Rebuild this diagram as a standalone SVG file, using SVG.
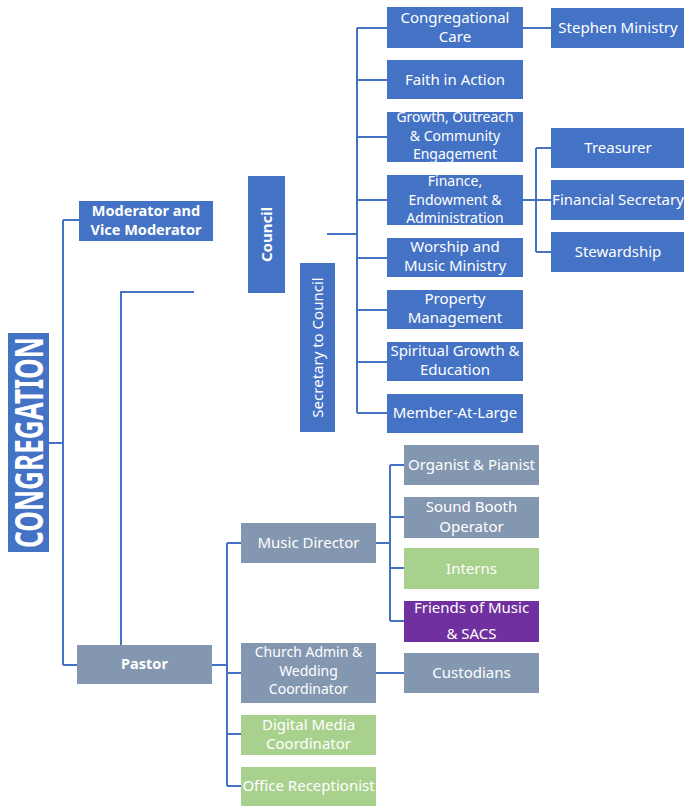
<svg xmlns="http://www.w3.org/2000/svg" width="684" height="806" viewBox="0 0 684 806">
<style>
.b{fill:#4472C4}
.g{fill:#8497B0}
.gr{fill:#A9D18E}
.p{fill:#7030A0}
text{font-family:"Noto Sans","Open Sans","Liberation Sans",sans-serif;font-size:15px;fill:#fff;text-anchor:middle}
.bd{font-weight:bold}
.t3{font-size:14px}
.c{fill:none;stroke:#4472C4;stroke-width:2}
</style>
<rect width="684" height="806" fill="#fff"/>
<g id="connectors">
<path class="c" d="M49,443 H63 M63,220 V665 M63,220 H79 M63,665 H77"/>
<path class="c" d="M121,645 V292 H194"/>
<path class="c" d="M327,234 H357 M357,28 V413 M357,28 H387 M357,80 H387 M357,137 H387 M357,200 H387 M357,258 H387 M357,310 H387 M357,362 H387 M357,413 H387"/>
<path class="c" d="M523,28 H551"/>
<path class="c" d="M523,200 H536 M536,148 V252 M536,148 H551 M536,200 H551 M536,252 H551"/>
<path class="c" d="M212,665 H227 M227,543 V786 M227,543 H241 M227,673 H241 M227,734 H241 M227,786 H241"/>
<path class="c" d="M376,543 H390 M390,465 V621 M390,465 H404 M390,517 H404 M390,568 H404 M390,621 H404"/>
<path class="c" d="M376,673 H404"/>
</g>
<g id="congregation"><rect class="b" x="8" y="333" width="41" height="219"/><text class="bd" transform="translate(43,442.5) rotate(-90)" textLength="211" lengthAdjust="spacingAndGlyphs" style="font-size:39px">CONGREGATION</text></g>
<g id="moderator"><rect class="b" x="79" y="201" width="134" height="40"/><text class="bd" x="146" y="216" style="font-size:14.5px">Moderator and</text><text class="bd" x="146" y="235" style="font-size:14.5px">Vice Moderator</text></g>
<g id="pastor"><rect class="g" x="77" y="645" width="135" height="39"/><text class="bd" x="144.5" y="669" style="font-size:14.5px">Pastor</text></g>
<g id="council"><rect class="b" x="248" y="176" width="37" height="117"/><text class="bd" transform="translate(271.5,234.5) rotate(-90)">Council</text></g>
<g id="secretary"><rect class="b" x="300" y="263" width="35" height="169"/><text transform="translate(323,347.5) rotate(-90)">Secretary to Council</text></g>
<g id="cong-care"><rect class="b" x="387" y="7" width="136" height="41"/><text x="455" y="23">Congregational</text><text x="455" y="42">Care</text></g>
<g id="faith"><rect class="b" x="387" y="60" width="136" height="39"/><text x="455" y="85">Faith in Action</text></g>
<g id="growth"><rect class="b" x="387" y="112" width="136" height="50"/><text class="t3" x="455" y="122">Growth, Outreach</text><text class="t3" x="455" y="140.5">&amp; Community</text><text class="t3" x="455" y="159">Engagement</text></g>
<g id="finance"><rect class="b" x="387" y="175" width="136" height="50"/><text class="t3" x="455" y="186">Finance,</text><text class="t3" x="455" y="204.5">Endowment &amp;</text><text class="t3" x="455" y="223">Administration</text></g>
<g id="worship"><rect class="b" x="387" y="238" width="136" height="39"/><text x="455" y="252">Worship and</text><text x="455" y="271">Music Ministry</text></g>
<g id="property"><rect class="b" x="387" y="290" width="136" height="39"/><text x="455" y="304">Property</text><text x="455" y="323">Management</text></g>
<g id="spiritual"><rect class="b" x="387" y="342" width="136" height="39"/><text x="455" y="356">Spiritual Growth &amp;</text><text x="455" y="375">Education</text></g>
<g id="member"><rect class="b" x="387" y="394" width="136" height="39"/><text x="455" y="418">Member-At-Large</text></g>
<g id="stephen"><rect class="b" x="551" y="8" width="133" height="40"/><text x="618" y="33">Stephen Ministry</text></g>
<g id="treasurer"><rect class="b" x="551" y="128" width="133" height="40"/><text x="618" y="153">Treasurer</text></g>
<g id="fin-sec"><rect class="b" x="551" y="180" width="133" height="40"/><text x="618" y="205">Financial Secretary</text></g>
<g id="stewardship"><rect class="b" x="551" y="232" width="133" height="40"/><text x="618" y="257">Stewardship</text></g>
<g id="music-director"><rect class="g" x="241" y="523" width="135" height="40"/><text x="308.5" y="548">Music Director</text></g>
<g id="church-admin"><rect class="g" x="241" y="643" width="135" height="60"/><text class="t3" x="308.5" y="657">Church Admin &amp;</text><text class="t3" x="308.5" y="675.5">Wedding</text><text class="t3" x="308.5" y="694">Coordinator</text></g>
<g id="digital"><rect class="gr" x="241" y="715" width="135" height="40"/><text x="308.5" y="730">Digital Media</text><text x="308.5" y="749">Coordinator</text></g>
<g id="office"><rect class="gr" x="241" y="767" width="135" height="39"/><text x="308.5" y="791">Office Receptionist</text></g>
<g id="organist"><rect class="g" x="404" y="445" width="135" height="40"/><text x="471.5" y="470">Organist &amp; Pianist</text></g>
<g id="sound"><rect class="g" x="404" y="497" width="135" height="41"/><text x="471.5" y="512">Sound Booth</text><text x="471.5" y="532">Operator</text></g>
<g id="interns"><rect class="gr" x="404" y="548" width="135" height="41"/><text x="471.5" y="574">Interns</text></g>
<g id="friends"><rect class="p" x="404" y="601" width="135" height="41"/><text x="471.5" y="613">Friends of Music</text><text x="471.5" y="639">&amp; SACS</text></g>
<g id="custodians"><rect class="g" x="404" y="653" width="135" height="40"/><text x="471.5" y="678">Custodians</text></g>
</svg>
